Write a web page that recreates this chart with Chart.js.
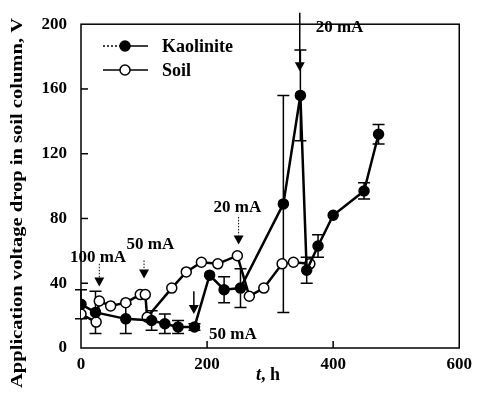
<!DOCTYPE html>
<html>
<head>
<meta charset="utf-8">
<script src="https://cdn.jsdelivr.net/npm/chart.js@4"></script>
<style>
html,body{margin:0;padding:0;background:#fff;}
#wrap{width:478px;height:402px;position:relative;}
</style>
</head>
<body>
<div id="wrap"><canvas id="c" width="478" height="402"></canvas></div>
<script>
// ---- data ----
const kaoT   = [0, 23, 71, 112, 133, 154, 180, 204, 227, 253, 321, 348, 358, 376, 400, 449, 472];
const kaoV   = [27, 22, 18, 17, 15, 13, 13, 45, 36, 37, 89, 156, 48, 63, 82, 97, 132];
const kaoErr = [9, 13, 9, 6, 6, 4, 2, 0, 8, 12, 67, 28, 8, 7, 0, 5, 6];

const soilT  = [0, 24, 29, 47, 71, 94, 102, 105, 144, 167, 191, 217, 248, 267, 290, 319, 337, 363];
const soilV  = [21, 16, 29, 26, 28, 33, 33, 19, 37, 47, 53, 52, 57, 32, 37, 52, 53, 52];

const xTicks = [0, 200, 400, 600];
const yTicks = [0, 40, 80, 120, 160, 200];

// current-change annotations: label, label position, arrow position (from/to), dotted?
const annoLabel  = ["100 mA", "50 mA", "20 mA", "50 mA", "20 mA"];
const annoLabelT = [27, 110, 248, 241, 410];
const annoLabelV = [56, 64, 87, 8, 198];
const arrowT     = [29, 100, 250, 179, 347];
const arrowFromV = [52, 54, 81, 35, 207];
const arrowToV   = [38, 43, 64, 21, 171];
const arrowDotted= [true, true, true, false, false];

const FONT = '"Liberation Serif", "Times New Roman", serif';

const decor = {
  id: 'decor',
  beforeDatasetsDraw(chart) {
    const ctx = chart.ctx, xs = chart.scales.x, ys = chart.scales.y;
    const a = chart.chartArea;
    ctx.save();
    ctx.strokeStyle = '#000';
    ctx.lineWidth = 1.5;
    ctx.strokeRect(a.left, a.top, a.right - a.left, a.bottom - a.top);
    yTicks.forEach(v => {
      if (v === 0 || v === 200) return;
      const y = ys.getPixelForValue(v);
      ctx.beginPath(); ctx.moveTo(a.left, y); ctx.lineTo(a.left + 7, y); ctx.stroke();
    });
    xTicks.forEach(v => {
      if (v === 0 || v === 600) return;
      const x = xs.getPixelForValue(v);
      ctx.beginPath(); ctx.moveTo(x, a.bottom); ctx.lineTo(x, a.bottom - 7); ctx.stroke();
    });
    ctx.lineWidth = 1.5;
    kaoT.forEach((t, i) => {
      const e = kaoErr[i];
      if (!e) return;
      const x = xs.getPixelForValue(t);
      const y1 = ys.getPixelForValue(kaoV[i] - e);
      const y2 = ys.getPixelForValue(kaoV[i] + e);
      ctx.beginPath();
      ctx.moveTo(x, y1); ctx.lineTo(x, y2);
      ctx.moveTo(x - 6, y1); ctx.lineTo(x + 6, y1);
      ctx.moveTo(x - 6, y2); ctx.lineTo(x + 6, y2);
      ctx.stroke();
    });
    ctx.restore();
  },
  afterDraw(chart) {
    const ctx = chart.ctx, xs = chart.scales.x, ys = chart.scales.y;
    const a = chart.chartArea;
    ctx.save();
    ctx.fillStyle = '#000';
    ctx.strokeStyle = '#000';
    ctx.font = 'bold 17px ' + FONT;
    ctx.textAlign = 'center';
    ctx.textBaseline = 'middle';
    annoLabel.forEach((s, i) => {
      ctx.fillText(s, xs.getPixelForValue(annoLabelT[i]), ys.getPixelForValue(annoLabelV[i]));
    });
    arrowT.forEach((t, i) => {
      const x = xs.getPixelForValue(t);
      const yf = ys.getPixelForValue(arrowFromV[i]);
      const yt = ys.getPixelForValue(arrowToV[i]);
      const hh = 9;
      ctx.lineWidth = arrowDotted[i] ? 1 : 1.5;
      ctx.setLineDash(arrowDotted[i] ? [1.5, 1.5] : []);
      ctx.beginPath(); ctx.moveTo(x, yf); ctx.lineTo(x, yt - hh); ctx.stroke();
      ctx.setLineDash([]);
      ctx.beginPath();
      ctx.moveTo(x - 5, yt - hh); ctx.lineTo(x + 5, yt - hh); ctx.lineTo(x, yt); ctx.closePath();
      ctx.fill();
    });
    // legend
    const items = chart.data.datasets;
    const lx1 = 103, lx2 = 148, lxm = 125, tx = 162;
    const ly = [46, 70];
    items.forEach((ds, i) => {
      const y = ly[i];
      ctx.lineWidth = 1.5;
      if (i === 0) {
        ctx.setLineDash([2, 2]);
        ctx.beginPath(); ctx.moveTo(lx1, y); ctx.lineTo(lxm, y); ctx.stroke();
        ctx.setLineDash([]);
        ctx.beginPath(); ctx.moveTo(lxm, y); ctx.lineTo(lx2, y); ctx.stroke();
      } else {
        ctx.beginPath(); ctx.moveTo(lx1, y); ctx.lineTo(lx2, y); ctx.stroke();
      }
      ctx.beginPath(); ctx.arc(lxm, y, 5, 0, Math.PI * 2);
      ctx.fillStyle = ds.pointBackgroundColor; ctx.fill();
      ctx.lineWidth = 1.5; ctx.stroke();
      ctx.fillStyle = '#000';
      ctx.font = 'bold 18px ' + FONT;
      ctx.textAlign = 'left';
      ctx.textBaseline = 'middle';
      ctx.fillText(ds.label, tx, y + 1);
    });
    // x title: italic t, bold ", h"
    const cx = (a.left + a.right) / 2 - 2, by = 380;
    ctx.textBaseline = 'alphabetic';
    ctx.font = 'bold italic 18px ' + FONT;
    const w1 = ctx.measureText('t').width;
    ctx.font = 'bold 18px ' + FONT;
    const w2 = ctx.measureText(', h').width;
    const sx = cx - (w1 + w2) / 2;
    ctx.textAlign = 'left';
    ctx.font = 'bold italic 18px ' + FONT;
    ctx.fillText('t', sx, by);
    ctx.font = 'bold 18px ' + FONT;
    ctx.fillText(', h', sx + w1, by);
    // y title
    const yt = 'Application voltage drop in soil column, V';
    ctx.font = 'bold 17px ' + FONT;
    const tw = ctx.measureText(yt).width;
    ctx.translate(18, 203);
    ctx.rotate(-Math.PI / 2);
    ctx.scale(370 / tw, 1);
    ctx.textAlign = 'center';
    ctx.textBaseline = 'middle';
    ctx.fillText(yt, 0, 0);
    ctx.restore();
  }
};

new Chart(document.getElementById('c'), {
  type: 'scatter',
  data: {
    datasets: [
      {
        label: 'Kaolinite',
        data: kaoT.map((t, i) => ({x: t, y: kaoV[i]})),
        showLine: true,
        borderColor: '#000',
        borderWidth: 2.5,
        pointRadius: 5,
        pointBorderWidth: 1.5,
        pointBorderColor: '#000',
        pointBackgroundColor: '#000',
        tension: 0
      },
      {
        label: 'Soil',
        data: soilT.map((t, i) => ({x: t, y: soilV[i]})),
        showLine: true,
        borderColor: '#000',
        borderWidth: 2.5,
        pointRadius: 5,
        pointBorderWidth: 1.5,
        pointBorderColor: '#000',
        pointBackgroundColor: '#fff',
        tension: 0
      }
    ]
  },
  options: {
    responsive: false,
    animation: false,
    events: [],
    layout: {padding: {top: 14, right: 15, left: 0, bottom: 0}},
    plugins: {legend: {display: false}, tooltip: {enabled: false}, title: {display: false}},
    scales: {
      x: {
        type: 'linear', min: 0, max: 600,
        afterBuildTicks: s => { s.ticks = xTicks.map(v => ({value: v})); },
        afterFit: s => { s.height = 54; },
        grid: {display: false, drawTicks: false},
        border: {display: false},
        ticks: {color: '#000', padding: 6, maxRotation: 0, font: {family: FONT, size: 17, weight: 'bold'}}
      },
      y: {
        type: 'linear', min: 0, max: 200,
        afterBuildTicks: s => { s.ticks = yTicks.map(v => ({value: v})); },
        afterFit: s => { s.width = 81; },
        grid: {display: false, drawTicks: false},
        border: {display: false},
        ticks: {color: '#000', padding: 14, font: {family: FONT, size: 17, weight: 'bold'}}
      }
    }
  },
  plugins: [decor]
});
</script>
</body>
</html>
